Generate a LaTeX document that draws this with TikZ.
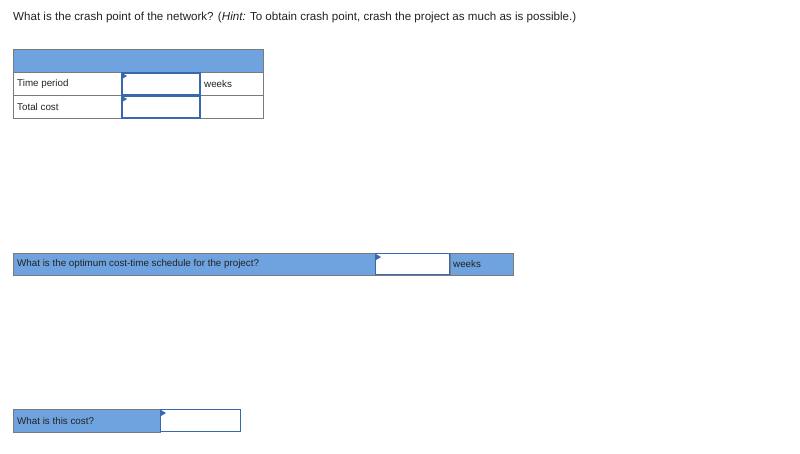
\documentclass[tikz,border=0pt]{standalone}
\usepackage{fontspec}
\setmainfont{Liberation Sans}
\definecolor{hdr}{HTML}{6FA3DF}
\definecolor{gry}{HTML}{7A7A7A}
\definecolor{inb}{HTML}{3A68AE}
\definecolor{txt}{HTML}{222222}
\begin{document}
\begin{tikzpicture}[x=1pt,y=-1pt,
  cell/.style={draw=gry,line width=1pt},
  inbox/.style={draw=inb,line width=1.3pt,fill=white},
  lbl/.style={anchor=west,font=\fontsize{9.8}{11}\selectfont,text=txt,inner sep=0pt},
  mk/.style={fill=inb,draw=none}]
\useasboundingbox (0,0) rectangle (800,453);
\node[anchor=west,inner sep=0pt,font=\fontsize{11.6}{14}\selectfont,text=txt] (q) at (13,17)
 {What is the crash point of the network? (\textit{Hint:} To obtain crash point, crash the project as much as is possible.)};
% table 1
\fill[hdr] (13,49) rectangle (263,72);
\draw[cell] (13,49) rectangle (263,118);
\draw[cell] (13,72) -- (263,72) (13,95) -- (263,95) (121,72) -- (121,118) (200,72) -- (200,118);
\node[inbox,minimum width=78pt,minimum height=22pt,inner sep=0pt] (b1) at (161,84) {};
\node[inbox,minimum width=78pt,minimum height=22pt,inner sep=0pt] (b2) at (161,107) {};
\fill[mk] (122,73) -- (127,76) -- (122,79) -- cycle;
\fill[mk] (122,96) -- (127,99) -- (122,102) -- cycle;
\node[lbl] (t1) at (17,84) {Time period};
\node[lbl] (t2) at (17,107) {Total cost};
\node[lbl] (w1) at (204,84) {weeks};
% row 2
\fill[hdr] (13,253) rectangle (513,275);
\draw[cell] (13,253) rectangle (513,275) (375,253) -- (375,275) (450,253) -- (450,275);
\node[inbox,minimum width=74pt,minimum height=21pt,inner sep=0pt] (b3) at (412.5,264) {};
\fill[mk] (376,254) -- (381,257) -- (376,260) -- cycle;
\node[lbl] (t3) at (17,264) {What is the optimum cost-time schedule for the project?};
\node[lbl] (w2) at (453,264) {weeks};
% row 3
\fill[hdr] (13,409) rectangle (241,432);
\draw[cell] (13,409) rectangle (160,432);
\node[inbox,minimum width=80pt,minimum height=22pt,inner sep=0pt] (b4) at (200.5,420.5) {};
\fill[mk] (161,410) -- (166,413) -- (161,416) -- cycle;
\node[lbl] (t4) at (17,421) {What is this cost?};
\end{tikzpicture}
\end{document}
